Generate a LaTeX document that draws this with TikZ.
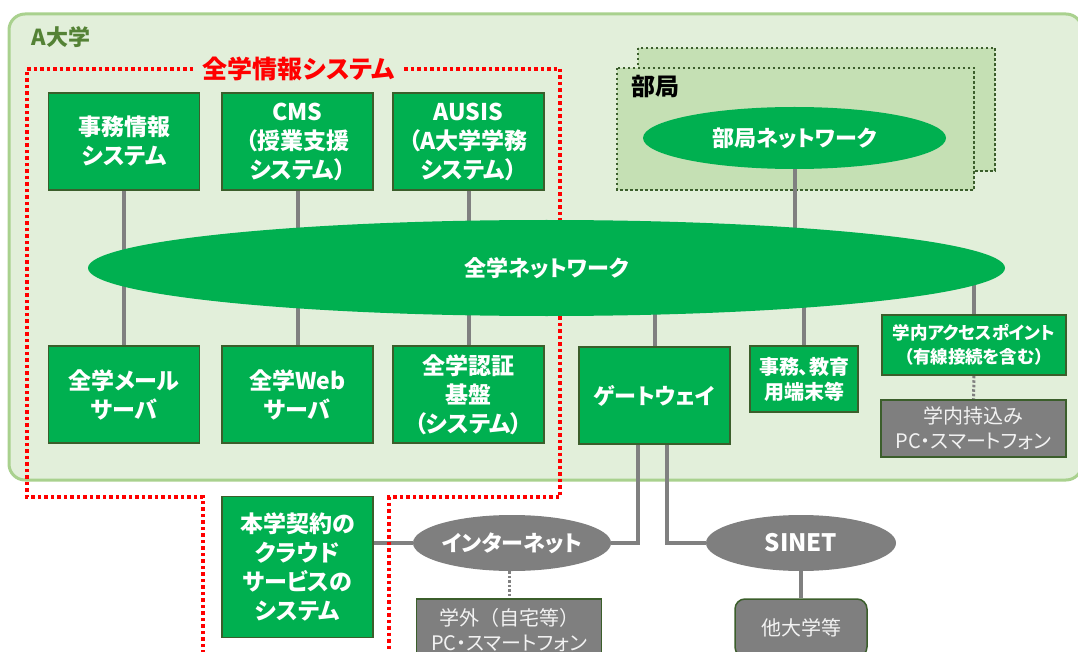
\documentclass[tikz,border=0pt]{standalone}
\usepackage{fontspec}
\setmainfont{Noto Sans CJK JP}[RawFeature=+palt]
\newfontfamily\plainjp{Noto Sans CJK JP}
\usetikzlibrary{shapes.geometric}

\definecolor{campus}{HTML}{E2EFDA}
\definecolor{campusline}{HTML}{A9D18E}
\definecolor{dept}{HTML}{C5E0B4}
\definecolor{deptline}{HTML}{3B5E2B}
\definecolor{netgreen}{HTML}{00B050}
\definecolor{boxline}{HTML}{3B5E2B}
\definecolor{grayfill}{HTML}{7F7F7F}
\definecolor{linkgray}{HTML}{808080}
\definecolor{unigreen}{HTML}{548235}
\definecolor{softwhite}{HTML}{F2F2F2}

\pgfdeclarelayer{back}
\pgfdeclarelayer{links}
\pgfdeclarelayer{frame}
\pgfsetlayers{back,links,frame,main}

\tikzset{
  sysbox/.style={draw=boxline, line width=1.5pt, fill=netgreen, text=white,
    font=\bfseries\fontsize{23}{29}\selectfont, align=center, inner sep=0pt,
    minimum width=151pt, minimum height=97pt},
  netoval/.style={ellipse, fill=netgreen, text=white, inner sep=0pt,
    font=\bfseries\fontsize{22}{25}\selectfont},
  outoval/.style={ellipse, fill=grayfill, text=white, inner sep=0pt,
    minimum width=190pt, minimum height=56pt},
  devbox/.style={draw=boxline, line width=1.5pt, fill=grayfill, text=softwhite,
    font=\fontsize{20}{25}\selectfont, align=center, inner sep=0pt},
  link/.style={draw=linkgray, line width=4pt},
  wireless/.style={draw=linkgray, line width=3pt, dash pattern=on 2.5pt off 2pt},
  deptframe/.style={draw=deptline, fill=dept, line width=2.5pt, dash pattern=on 2.5pt off 2.5pt},
  sysframe/.style={draw=red, line width=3.5pt, dash pattern=on 3.5pt off 3pt},
}

\begin{document}
\begin{tikzpicture}[x=1pt, y=-1pt]
    \useasboundingbox (0,0) rectangle (1078,652);

    % A大学 / 部局
    \begin{pgfonlayer}{back}
        \draw[draw=campusline, fill=campus, line width=3pt, rounded corners=16pt] (9,14) rectangle (1082,480);
        \draw[deptframe] (638,48) rectangle (995,171);
        \draw[deptframe] (617,68) rectangle (974,190);
    \end{pgfonlayer}

    % 全学情報システム
    \begin{pgfonlayer}{frame}
        \draw[sysframe] (203,660) -- (203,497) -- (27,497) -- (27,69) -- (560,69)
                     -- (560,497) -- (389,497) -- (389,660);
    \end{pgfonlayer}

    \node[anchor=west, text=unigreen, font=\bfseries\fontsize{22}{26}\selectfont] (uni) at (28,37) {A大学};
    \node[anchor=west, font=\bfseries\fontsize{24}{26}\selectfont] (bukyoku) at (628,87) {部局};
    \node[fill=campus, text=red, minimum width=206pt, inner sep=0pt,
          font=\bfseries\fontsize{25}{28}\selectfont] (systitle) at (299,69) {全学情報システム};

    \node[sysbox] (jimu) at (124,141.5) {事務情報\\システム};
    \node[sysbox] (cms) at (297.5,141.5) {CMS\\（授業支援\\システム）};
    \node[sysbox] (ausis) at (468.5,141.5) {AUSIS\\（A大学学務\\システム）};
    \node[sysbox] (mail) at (124,394.5) {全学メール\\サーバ};
    \node[sysbox] (web) at (297.5,394.5) {全学Web\\サーバ};
    \node[sysbox] (auth) at (468.5,394.5) {全学認証\\基盤\\（システム）};
    \node[sysbox, minimum height=141pt] (cloud) at (297.5,567) {本学契約の\\クラウド\\サービスの\\システム};

    \node[netoval, minimum width=917pt, minimum height=96pt] (campusnet) at (546.5,268) {全学ネットワーク};
    \node[netoval, minimum width=303pt, minimum height=62pt] (bunet) at (794.5,138) {部局ネットワーク};

    \node[sysbox, font=\bfseries\fontsize{22}{26}\selectfont] (gw) at (654.5,395.5) {ゲートウェイ};
    \node[sysbox, minimum width=108pt, minimum height=66pt,
          font=\bfseries\fontsize{20}{25}\selectfont] (term) at (804,379) {事務、教育\\用端末等};
    \node[sysbox, minimum width=184pt, minimum height=60pt,
          font=\bfseries\fontsize{17.5}{24}\selectfont] (ap) at (974,345) {学内アクセスポイント\\（有線接続を含む）};
    \node[devbox, minimum width=185pt, minimum height=57pt] (byod) at (973.5,428.5) {学内持込み\\PC・スマートフォン};

    \node[outoval, font=\bfseries\fontsize{22}{25}\selectfont] (inet) at (512,543) {インターネット};
    \node[outoval, font=\bfseries\fontsize{24}{25}\selectfont] (sinet) at (801,543) {SINET};
    \node[devbox, minimum width=185pt, minimum height=62pt] (home) at (509,630) {{\plainjp 学外（自宅等）}\\PC・スマートフォン};
    \node[devbox, rounded corners=10pt, minimum width=132pt, minimum height=58pt] (other) at (801,628) {他大学等};

    \begin{pgfonlayer}{links}
        \draw[link] (jimu) -- (mail);
        \draw[link] (cms) -- (web);
        \draw[link] (ausis) -- (auth);
        \draw[link] (bunet) -- (bunet |- campusnet.center);
        \draw[link] (gw) -- (gw |- campusnet.center);
        \draw[link] (term) -- (term |- campusnet.center);
        \draw[link] (ap) -- (ap |- campusnet.center);
        \draw[link] ([xshift=-17pt]gw.south) |- (inet);
        \draw[link] ([xshift=12.5pt]gw.south) |- (sinet);
        \draw[link] (inet) -- (inet -| cloud.east);
        \draw[link] (sinet) -- (other);
        \draw[wireless] (ap) -- (byod);
        \draw[wireless] (home.north |- inet.south) -- (home);
    \end{pgfonlayer}
\end{tikzpicture}
\end{document}
